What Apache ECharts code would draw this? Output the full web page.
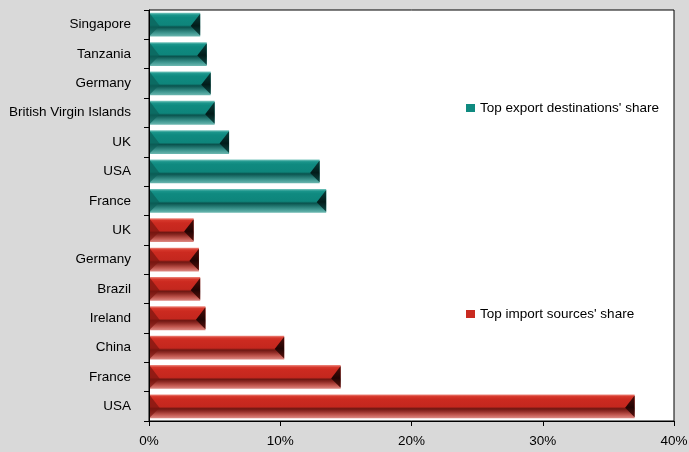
<!DOCTYPE html>
<html>
<head>
<meta charset="utf-8">
<script src="https://cdn.jsdelivr.net/npm/echarts@6/dist/echarts.min.js"></script>
<style>
html,body{margin:0;padding:0;background:#d9d9d9;}
#chart{width:689px;height:452px;}
</style>
</head>
<body>
<div id="chart"></div>
<script>
// Data, listed top to bottom as in the picture
const exportCountries = ['Singapore','Tanzania','Germany','British Virgin Islands','UK','USA','France'];
const exportShares    = [3.9, 4.4, 4.7, 5.0, 6.1, 13.0, 13.5];
const importCountries = ['UK','Germany','Brazil','Ireland','China','France','USA'];
const importShares    = [3.4, 3.8, 3.9, 4.3, 10.3, 14.6, 37.0];
const xTicks = [0, 10, 20, 30, 40];
const exportName = "Top export destinations' share";
const importName = "Top import sources' share";

const FONT = "'Liberation Sans', Arial, sans-serif";

// Category axis runs bottom -> top in ECharts
const labelsTopDown = exportCountries.concat(importCountries);
const categories = labelsTopDown.slice().reverse();
const n = categories.length;
const exportData = exportShares.map((v, i) => [v, n - 1 - i]);
const importData = importShares.map((v, i) => [v, n - 1 - (exportCountries.length + i)]);

function grad(stops) {
  return new echarts.graphic.LinearGradient(0, 0, 0, 1, stops.map((c) => ({offset: c[0], color: c[1]})));
}

const palettes = {
  teal: {
    body: [[0,'#7cc8c0'],[0.09,'#1a958b'],[0.2,'#0f8a80'],[0.52,'#0e857b'],[0.6,'#0a534e'],[0.7,'#1d6f69'],[0.85,'#3f9790'],[1,'#6cb8b1']],
    left: '#0b5f58',
    right: [[0,'#0a3f3b'],[0.55,'#021c1a'],[1,'#0d4a45']]
  },
  red: {
    body: [[0,'#ee8a80'],[0.09,'#d6372b'],[0.2,'#cc2a20'],[0.52,'#c4271e'],[0.6,'#6e1712'],[0.7,'#8e2a24'],[0.85,'#c0564e'],[1,'#de8a84']],
    left: '#7a1510',
    right: [[0,'#4a0d09'],[0.55,'#220403'],[1,'#5a120d']]
  }
};

function makeRender(pal) {
  return function (params, api) {
    const val = api.value(0), idx = api.value(1);
    const p0 = api.coord([0, idx]);
    const p1 = api.coord([val, idx]);
    const band = api.size([0, 1])[1];
    const h = band * 0.81;
    const x0 = p0[0] + 1, x1 = p1[0];
    const y0 = p0[1] - h / 2, y1 = p0[1] + h / 2;
    const ym = y0 + h * 0.56;
    const b = Math.min(h * 0.4, (x1 - x0) / 2);
    return {
      type: 'group',
      children: [
        {type: 'rect', shape: {x: x0, y: y0, width: x1 - x0, height: h}, style: {fill: grad(pal.body)}},
        {type: 'polygon', shape: {points: [[x0, y0 + 1], [x0 + b, ym], [x0, y1 - 1]]}, style: {fill: pal.left, opacity: 0.7}},
        {type: 'polygon', shape: {points: [[x1, y0 + 1], [x1 - b, ym], [x1, y1 - 1]]}, style: {fill: grad(pal.right)}}
      ]
    };
  };
}

const chart = echarts.init(document.getElementById('chart'));
chart.setOption({
  backgroundColor: '#d9d9d9',
  animation: false,
  textStyle: {fontFamily: FONT},
  grid: {left: 149, right: 15, top: 10, bottom: 31, containLabel: false, outerBoundsMode: 'none',
         show: true, backgroundColor: '#ffffff', borderColor: '#000', borderWidth: 1},
  legend: [
    {data: [exportName], left: 466, top: 100, orient: 'vertical', padding: 0, icon: 'rect', itemWidth: 9, itemHeight: 8, itemGap: 0,
     textStyle: {color: '#000', fontSize: 13.5, lineHeight: 16, fontFamily: FONT}},
    {data: [importName], left: 466, top: 306, orient: 'vertical', padding: 0, icon: 'rect', itemWidth: 9, itemHeight: 8, itemGap: 0,
     textStyle: {color: '#000', fontSize: 13.5, lineHeight: 16, fontFamily: FONT}}
  ],
  xAxis: {
    type: 'value', min: xTicks[0], max: xTicks[xTicks.length - 1], interval: xTicks[1] - xTicks[0],
    axisLine: {show: true, lineStyle: {color: '#000', width: 1}},
    axisTick: {show: true, length: 5, lineStyle: {color: '#000'}},
    splitLine: {show: false},
    axisLabel: {formatter: '{value}%', color: '#000', fontSize: 13.5, margin: 13, fontFamily: FONT}
  },
  yAxis: {
    type: 'category', data: categories,
    axisLine: {show: true, lineStyle: {color: '#000', width: 1}},
    axisTick: {show: true, length: 5, alignWithLabel: false, lineStyle: {color: '#000'}},
    axisLabel: {color: '#000', fontSize: 13.5, margin: 18, interval: 0, fontFamily: FONT},
    splitLine: {show: false}
  },
  series: [
    {name: exportName, type: 'custom', renderItem: makeRender(palettes.teal), itemStyle: {color: '#0f8a80'},
     encode: {x: 0, y: 1}, data: exportData, z: 3},
    {name: importName, type: 'custom', renderItem: makeRender(palettes.red), itemStyle: {color: '#c92a20'},
     encode: {x: 0, y: 1}, data: importData, z: 3}
  ]
});
</script>
</body>
</html>
